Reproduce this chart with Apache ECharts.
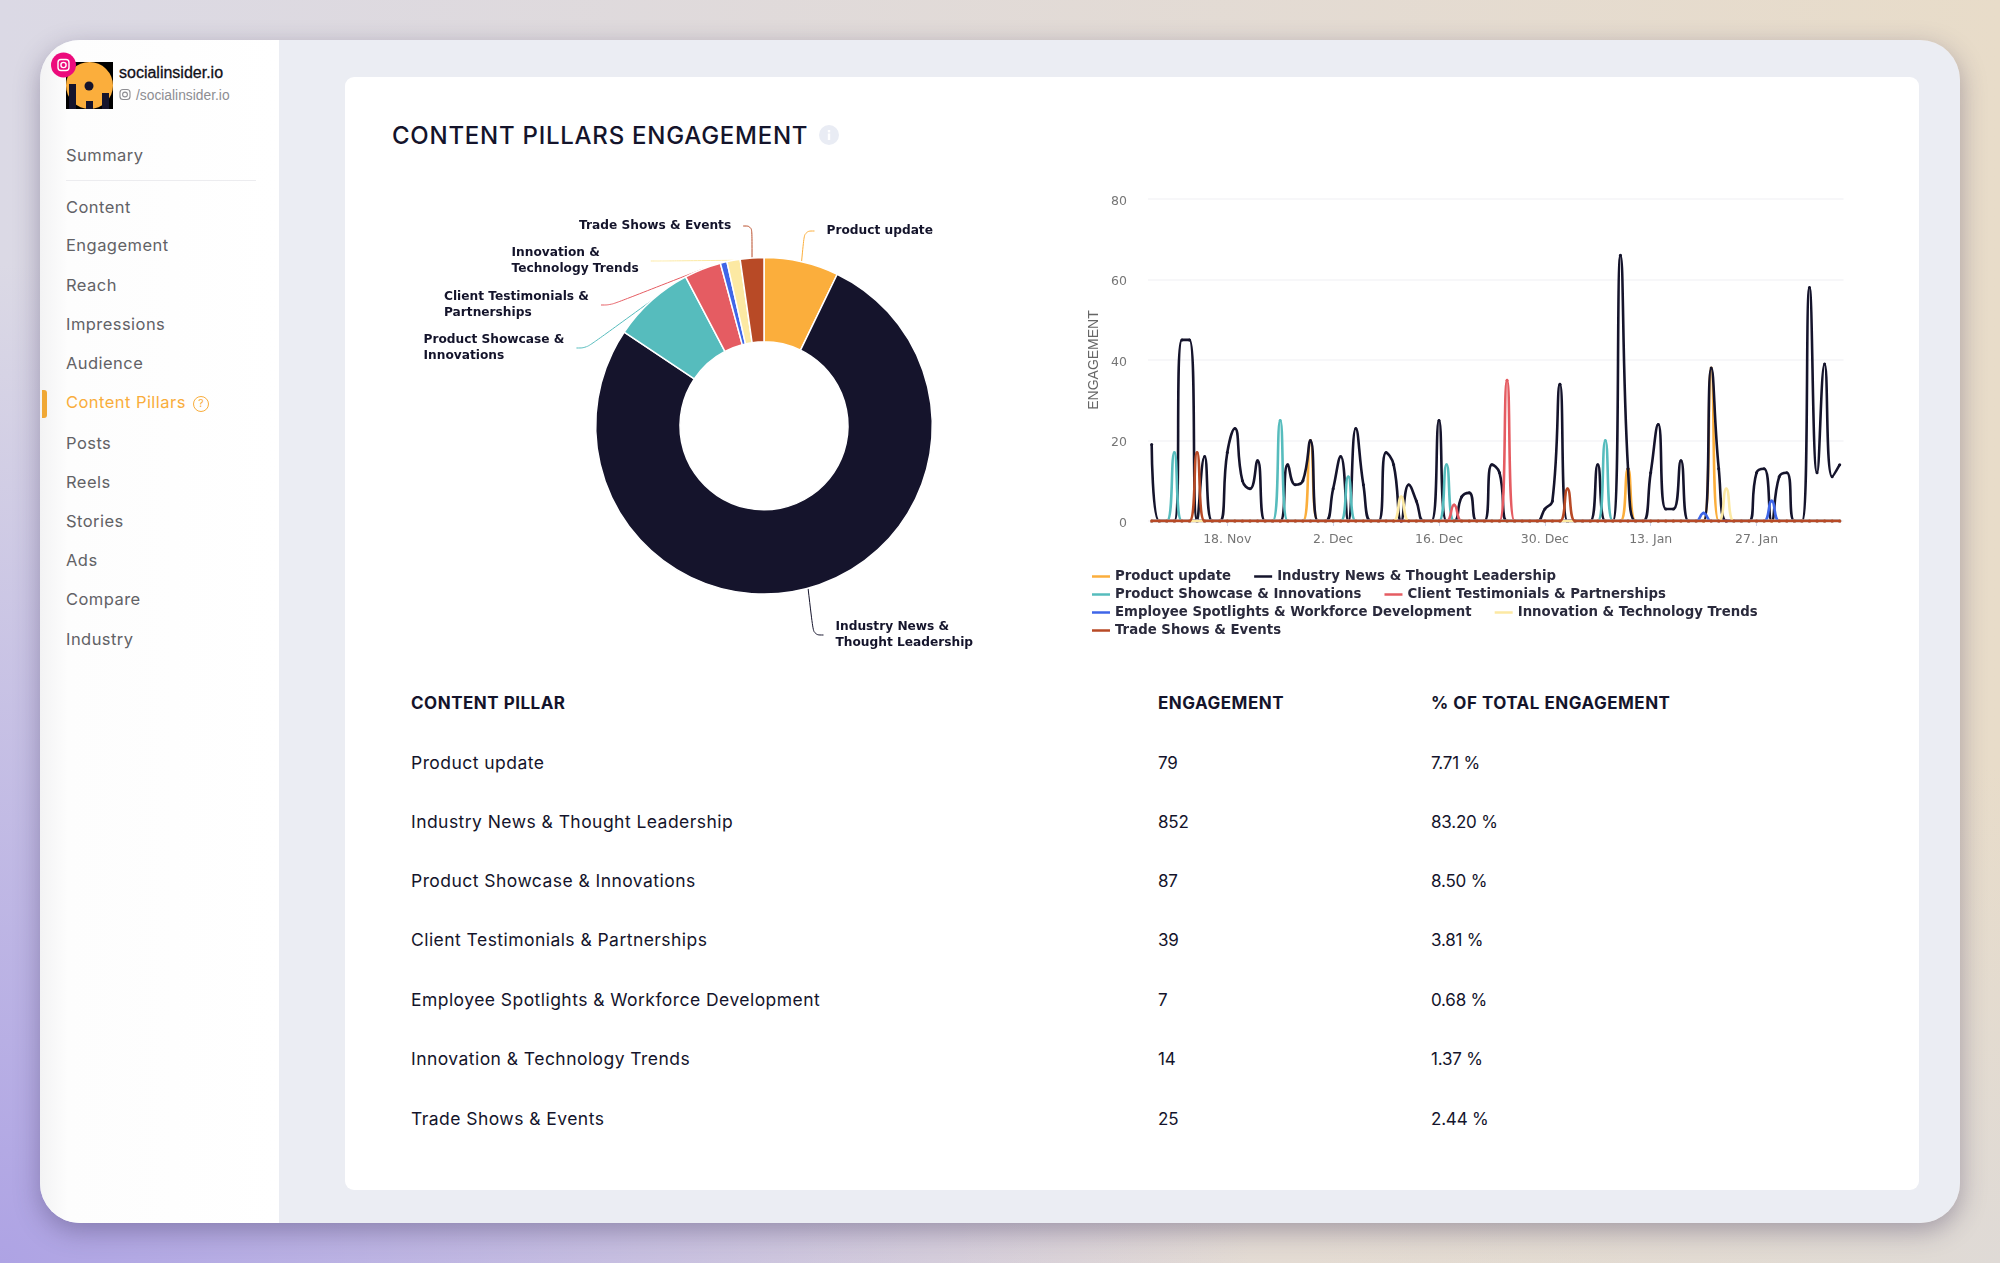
<!DOCTYPE html>
<html>
<head>
<meta charset="utf-8">
<title>Content Pillars Engagement</title>
<script src="https://cdn.jsdelivr.net/npm/echarts@6/dist/echarts.min.js"></script>
<style>
  html, body { margin: 0; padding: 0; }
  body {
    width: 2000px; height: 1263px; position: relative; overflow: hidden;
    font-family: Inter, "Noto Sans", sans-serif;
    background:
      radial-gradient(ellipse 1250px 1000px at 0% 100%, #aea3e4 0%, rgba(174,163,228,0) 100%),
      radial-gradient(ellipse 700px 500px at 100% 100%, #dfdad6 0%, rgba(223,218,214,0) 100%),
      linear-gradient(90deg, #dbd9e5 0%, #e8dcc9 100%);
  }
  .abs { position: absolute; white-space: nowrap; }
  #panel {
    position: absolute; left: 39.5px; top: 40px; width: 1920.5px; height: 1183px;
    border-radius: 40px; background: #ebedf3; overflow: hidden;
  }
  #shadow {
    position: absolute; left: 39.5px; top: 40px; width: 1920.5px; height: 1183px;
    border-radius: 40px; box-shadow: 0 8px 26px rgba(60, 50, 90, .38);
  }
  #side {
    position: absolute; left: 0; top: 0; width: 239.5px; height: 100%;
    background: linear-gradient(90deg, #f3f3f4 0, #fdfdfd 28px, #fff 100%);
  }
  #card { position: absolute; left: 345px; top: 77px; width: 1574px; height: 1113px; background: #fff; border-radius: 9px; }
  .nav { left: 66px; font-size: 16.5px; letter-spacing: .45px; color: #626266; transform: translateY(-50%); }
  .nav.on { color: #f9ad3b; }
  .cell { font-size: 17.5px; color: #14142b; transform: translateY(calc(-50% - 1px)); letter-spacing: .45px; }
  .cell.num { font-size: 17px; letter-spacing: -.2px; transform: translateY(-50%); }
  .cell.head { font-weight: 700; font-size: 17px; letter-spacing: .5px; transform: translateY(-50%); }
  #main { position: absolute; left: 0; top: 0; width: 2000px; height: 1263px; }
</style>
</head>
<body>
<div id="shadow"></div>
<div id="panel"><div id="side"></div></div>
<div id="card"></div>

<!-- logo, badge -->
<svg class="abs" style="left:40px;top:50px" width="90" height="70" viewBox="40 50 90 70">
  <rect x="66" y="62" width="47" height="47" fill="#000"/>
  <circle cx="89.5" cy="85.5" r="23.5" fill="#fbae3c"/>
  <rect x="69" y="84" width="7" height="25" fill="#15142c"/>
  <rect x="102" y="93" width="7" height="16" fill="#15142c"/>
  <rect x="86" y="101" width="7" height="8" fill="#15142c"/>
  <circle cx="89" cy="86" r="4.5" fill="#15142c"/>
  <circle cx="63.5" cy="65" r="12.5" fill="#ec0b7c"/>
  <rect x="58" y="59.5" width="11" height="11" rx="3" fill="none" stroke="#fff" stroke-width="1.4"/>
  <circle cx="63.5" cy="65" r="2.6" fill="none" stroke="#fff" stroke-width="1.4"/>
</svg>
<div class="abs" style="left:119px;top:73px;transform:translateY(-50%);font:500 16px 'Liberation Sans',sans-serif;color:#101018;-webkit-text-stroke:.3px #101018">socialinsider.io</div>
<svg class="abs" style="left:119px;top:88px" width="13" height="14" viewBox="0 0 13 14">
  <rect x="1" y="1.5" width="10" height="10" rx="3" fill="none" stroke="#8d8d92" stroke-width="1.1"/>
  <circle cx="6" cy="6.5" r="2.4" fill="none" stroke="#8d8d92" stroke-width="1.1"/>
</svg>
<div class="abs" style="left:136px;top:95px;transform:translateY(-50%);font:13.8px 'Liberation Sans',sans-serif;color:#8d8d92">/socialinsider.io</div>

<div class="abs" style="left:66px;top:180px;width:190px;height:1px;background:#ececef"></div>
<div class="abs" style="left:42px;top:390px;width:5px;height:28px;background:#f0a835;border-radius:0 3px 3px 0"></div>

<!-- title -->
<div class="abs" style="left:392px;top:135px;transform:translateY(-50%);font-size:24px;font-weight:450;color:#14142b;letter-spacing:.75px">CONTENT PILLARS ENGAGEMENT</div>
<svg class="abs" style="left:819px;top:125px" width="20" height="20" viewBox="0 0 20 20">
  <circle cx="10" cy="10" r="10" fill="#e9ecf4"/>
  <rect x="8.8" y="8.5" width="2.4" height="6.5" fill="#fff"/>
  <rect x="8.8" y="5" width="2.4" height="2.4" fill="#fff"/>
</svg>

<div id="nav"></div>
<div id="table"></div>
<div id="main"></div>

<script>
const echarts = window.echarts

// sidebar
const navItems = ['Summary', 'Content', 'Engagement', 'Reach', 'Impressions', 'Audience', 'Content Pillars', 'Posts', 'Reels', 'Stories', 'Ads', 'Compare', 'Industry']
const navTops = [154.5, 206.5, 245, 284.5, 323.5, 362.5, 401.5, 442.5, 481.5, 520.5, 559.5, 598.5, 638.5]

// pillars
const pillars = [
  'Product update',
  'Industry News & Thought Leadership',
  'Product Showcase & Innovations',
  'Client Testimonials & Partnerships',
  'Employee Spotlights & Workforce Development',
  'Innovation & Technology Trends',
  'Trade Shows & Events'
]
const engagement = [79, 852, 87, 39, 7, 14, 25]
const shareLabels = ['7.71 %', '83.20 %', '8.50 %', '3.81 %', '0.68 %', '1.37 %', '2.44 %']
const tableHeads = ['CONTENT PILLAR', 'ENGAGEMENT', '% OF TOTAL ENGAGEMENT']
const pieLabels = [
  'Product update',
  'Industry News &\nThought Leadership',
  'Product Showcase &\nInnovations',
  'Client Testimonials &\nPartnerships',
  null,
  'Innovation &\nTechnology Trends',
  'Trade Shows & Events'
]

// days, 8. Nov -> 7. Feb
const days = [
  '8. Nov', '9. Nov', '10. Nov', '11. Nov', '12. Nov', '13. Nov', '14. Nov', '15. Nov', '16. Nov', '17. Nov', '18. Nov', '19. Nov',
  '20. Nov', '21. Nov', '22. Nov', '23. Nov', '24. Nov', '25. Nov', '26. Nov', '27. Nov', '28. Nov', '29. Nov', '30. Nov',
  '1. Dec', '2. Dec', '3. Dec', '4. Dec', '5. Dec', '6. Dec', '7. Dec', '8. Dec', '9. Dec', '10. Dec', '11. Dec', '12. Dec', '13. Dec',
  '14. Dec', '15. Dec', '16. Dec', '17. Dec', '18. Dec', '19. Dec', '20. Dec', '21. Dec', '22. Dec', '23. Dec', '24. Dec', '25. Dec',
  '26. Dec', '27. Dec', '28. Dec', '29. Dec', '30. Dec', '31. Dec',
  '1. Jan', '2. Jan', '3. Jan', '4. Jan', '5. Jan', '6. Jan', '7. Jan', '8. Jan', '9. Jan', '10. Jan', '11. Jan', '12. Jan', '13. Jan',
  '14. Jan', '15. Jan', '16. Jan', '17. Jan', '18. Jan', '19. Jan', '20. Jan', '21. Jan', '22. Jan', '23. Jan', '24. Jan', '25. Jan',
  '26. Jan', '27. Jan', '28. Jan', '29. Jan', '30. Jan', '31. Jan',
  '1. Feb', '2. Feb', '3. Feb', '4. Feb', '5. Feb', '6. Feb', '7. Feb'
]
const tickedDays = ['18. Nov', '2. Dec', '16. Dec', '30. Dec', '13. Jan', '27. Jan']
const yTicks = [0, 20, 40, 60, 80]

// one value per day
const productUpdate = [
  0, 0, 0, 0, 0, 0, 0, 0, 0, 0, 0, 0, 0, 0, 0, 0, 0, 0, 0, 0, 0, 20, 0, 0, 0, 0, 0, 0, 0, 0,
  0, 0, 0, 0, 0, 0, 0, 0, 0, 0, 0, 0, 0, 0, 0, 0, 0, 0, 0, 0, 0, 0, 0, 0, 0, 0, 0, 0, 0, 0,
  0, 0, 0, 13, 0, 0, 0, 0, 0, 0, 0, 0, 0, 0, 38, 0, 0, 0, 0, 0, 0, 0, 0, 0, 0, 0, 0, 0, 0, 0,
  0, 0
]
const industryNews = [
  19, 0, 0, 0, 45, 45, 0, 16, 0, 0, 17, 23, 10, 8, 15, 0, 0, 0, 14, 9, 10, 20, 0, 0, 8, 16, 0, 23, 9, 0,
  0, 17, 14, 0, 9, 5, 0, 0, 25, 0, 0, 6, 7, 0, 0, 14, 12, 0, 0, 0, 0, 0, 3, 5, 34, 0, 0, 0, 0, 14,
  0, 0, 66, 13, 0, 0, 12, 24, 3, 3, 15, 0, 0, 0, 38, 13, 0, 0, 0, 0, 12, 13, 0, 11, 12, 0, 0, 58, 12, 39,
  11, 14
]
const productShowcase = [
  0, 0, 0, 17, 0, 0, 0, 0, 0, 0, 0, 0, 0, 0, 0, 0, 0, 25, 0, 0, 0, 0, 0, 0, 0, 0, 11, 0, 0, 0,
  0, 0, 0, 0, 0, 0, 0, 0, 0, 14, 0, 0, 0, 0, 0, 0, 0, 0, 0, 0, 0, 0, 0, 0, 0, 0, 0, 0, 0, 0,
  20, 0, 0, 0, 0, 0, 0, 0, 0, 0, 0, 0, 0, 0, 0, 0, 0, 0, 0, 0, 0, 0, 0, 0, 0, 0, 0, 0, 0, 0,
  0, 0
]
const clientTestimonials = [
  0, 0, 0, 0, 0, 0, 0, 0, 0, 0, 0, 0, 0, 0, 0, 0, 0, 0, 0, 0, 0, 0, 0, 0, 0, 0, 0, 0, 0, 0,
  0, 0, 0, 0, 0, 0, 0, 0, 0, 0, 4, 0, 0, 0, 0, 0, 0, 35, 0, 0, 0, 0, 0, 0, 0, 0, 0, 0, 0, 0,
  0, 0, 0, 0, 0, 0, 0, 0, 0, 0, 0, 0, 0, 0, 0, 0, 0, 0, 0, 0, 0, 0, 0, 0, 0, 0, 0, 0, 0, 0,
  0, 0
]
const employeeSpotlights = [
  0, 0, 0, 0, 0, 0, 0, 0, 0, 0, 0, 0, 0, 0, 0, 0, 0, 0, 0, 0, 0, 0, 0, 0, 0, 0, 0, 0, 0, 0,
  0, 0, 0, 0, 0, 0, 0, 0, 0, 0, 0, 0, 0, 0, 0, 0, 0, 0, 0, 0, 0, 0, 0, 0, 0, 0, 0, 0, 0, 0,
  0, 0, 0, 0, 0, 0, 0, 0, 0, 0, 0, 0, 0, 2, 0, 0, 0, 0, 0, 0, 0, 0, 5, 0, 0, 0, 0, 0, 0, 0,
  0, 0
]
const innovationTrends = [
  0, 0, 0, 0, 0, 0, 0, 0, 0, 0, 0, 0, 0, 0, 0, 0, 0, 0, 0, 0, 0, 0, 0, 0, 0, 0, 0, 0, 0, 0,
  0, 0, 0, 6, 0, 0, 0, 0, 0, 0, 0, 0, 0, 0, 0, 0, 0, 0, 0, 0, 0, 0, 0, 0, 0, 0, 0, 0, 0, 0,
  0, 0, 0, 0, 0, 0, 0, 0, 0, 0, 0, 0, 0, 0, 0, 0, 8, 0, 0, 0, 0, 0, 0, 0, 0, 0, 0, 0, 0, 0,
  0, 0
]
const tradeShows = [
  0, 0, 0, 0, 0, 0, 17, 0, 0, 0, 0, 0, 0, 0, 0, 0, 0, 0, 0, 0, 0, 0, 0, 0, 0, 0, 0, 0, 0, 0,
  0, 0, 0, 0, 0, 0, 0, 0, 0, 0, 0, 0, 0, 0, 0, 0, 0, 0, 0, 0, 0, 0, 0, 0, 0, 8, 0, 0, 0, 0,
  0, 0, 0, 0, 0, 0, 0, 0, 0, 0, 0, 0, 0, 0, 0, 0, 0, 0, 0, 0, 0, 0, 0, 0, 0, 0, 0, 0, 0, 0,
  0, 0
]
const daily = [productUpdate, industryNews, productShowcase, clientTestimonials, employeeSpotlights, innovationTrends, tradeShows]

const colors = ['#fbae3c', '#15142c', '#56bcbd', '#e55c62', '#3f66e8', '#fce9a3', '#b84a26']
const labelFont = { fontFamily: 'DejaVu Sans', fontSize: 12.2, fontWeight: 600, color: '#14142b' }
const legendFont = { fontFamily: 'DejaVu Sans', fontSize: 13.3, fontWeight: 600, color: '#2a2a3c' }
const gridLine = '#f5f5f7'

// pie labels sit where the reference has them, 12px padding keeps the line off the text
const labelPad = 12
const pieLabelSpots = [
  [826.5, 231], [835.5, 635], [423.5, 348], [444, 305], [0, 0], [511.5, 261], [579, 226]
]

// --- html parts
const nav = document.getElementById('nav')
nav.innerHTML = navItems.map((name, i) => {
  let q = name === 'Content Pillars'
    ? '<span style="display:inline-block;width:14px;height:14px;line-height:14px;border:1.4px solid #f9ad3b;border-radius:50%;text-align:center;font-size:10.5px;margin-left:7px;vertical-align:1px;letter-spacing:0">?</span>'
    : ''
  return `<div class="abs nav ${q ? 'on' : ''}" style="top:${navTops[i]}px">${name}${q}</div>`
}).join('')

const colLeft = [411, 1158, 1431]
const rowTops = [763, 821.5, 881, 940, 1000, 1059, 1119]
let tableHtml = tableHeads.map((t, i) => `<div class="abs cell head" style="left:${colLeft[i]}px;top:703px">${t}</div>`).join('')
pillars.forEach((name, i) => {
  let row = [name.replace(/&/g, '&amp;'), engagement[i], shareLabels[i]]
  tableHtml += row.map((t, c) => `<div class="abs cell ${c ? 'num' : ''}" style="left:${colLeft[c]}px;top:${rowTops[i]}px">${t}</div>`).join('')
})
document.getElementById('table').innerHTML = tableHtml

// --- chart
// legend wraps with the same gap in both directions, so one legend per row
const legendRow = (names, top) => ({
  left: 1092,
  top: top,
  orient: 'horizontal',
  data: names,
  icon: 'rect',
  itemWidth: 18,
  itemHeight: 2.5,
  itemGap: 23,
  padding: 0,
  textStyle: legendFont,
  selectedMode: false
})

const lineSeries = pillars.map((name, i) => ({
  name: name,
  type: 'line',
  data: daily[i],
  smooth: 0.5,
  symbol: 'circle',
  symbolSize: 3,
  showSymbol: true,
  showAllSymbol: true,
  lineStyle: { color: colors[i], width: 2.6 },
  itemStyle: { color: colors[i] },
  z: 2 + i,
  animation: false
}))

const pieSeries = {
  type: 'pie',
  center: [764, 425.8],
  radius: [84, 168.3],
  startAngle: 90,
  clockwise: true,
  avoidLabelOverlap: false,
  animation: false,
  silent: true,
  data: pillars.map((name, i) => ({
    name: name,
    value: engagement[i],
    itemStyle: { color: colors[i], borderColor: '#fff', borderWidth: 1.5 },
    label: { show: pieLabels[i] !== null },
    labelLine: {
      show: pieLabels[i] !== null,
      smooth: 0.4,
      lineStyle: { color: colors[i], width: 1 }
    }
  })),
  label: Object.assign({
    position: 'outside',
    lineHeight: 16.5,
    align: 'left',
    padding: [0, labelPad],
    formatter: p => pieLabels[p.dataIndex] || ''
  }, labelFont),
  labelLine: { length: 14, length2: 10 },
  labelLayout: p => {
    let spot = pieLabelSpots[p.dataIndex]
    return { x: spot[0] - labelPad, y: spot[1], align: 'left', verticalAlign: 'middle' }
  }
}

const myChart = echarts.init(document.getElementById('main'), null, { renderer: 'canvas' })
myChart.setOption({
  backgroundColor: 'transparent',
  animation: false,
  color: colors,
  grid: { left: 1147.9, top: 199, width: 695.6, height: 322, containLabel: false },
  legend: [
    legendRow([pillars[0], pillars[1]], 570),
    legendRow([pillars[2], pillars[3]], 588),
    legendRow([pillars[4], pillars[5]], 606),
    legendRow([pillars[6]], 624)
  ],
  xAxis: {
    type: 'category',
    data: days,
    boundaryGap: true,
    axisLine: { show: false },
    axisTick: {
      show: true,
      alignWithLabel: true,
      length: 5,
      interval: (i, v) => tickedDays.includes(v),
      lineStyle: { color: '#ccd6eb' }
    },
    axisLabel: {
      interval: (i, v) => tickedDays.includes(v),
      margin: 12,
      fontFamily: 'DejaVu Sans',
      fontSize: 12.5,
      color: '#757575'
    },
    splitLine: { show: false }
  },
  yAxis: {
    type: 'value',
    min: yTicks[0],
    max: yTicks[yTicks.length - 1],
    interval: 20,
    name: 'ENGAGEMENT',
    nameLocation: 'middle',
    nameGap: 47,
    nameTextStyle: { fontFamily: 'Liberation Sans', fontSize: 14, color: '#666' },
    axisLine: { show: false },
    axisTick: { show: false },
    // top aligned with a short line box puts the digits a little under the grid line
    axisLabel: { margin: 21, verticalAlign: 'top', lineHeight: 5, fontFamily: 'DejaVu Sans', fontSize: 12.5, color: '#757575' },
    splitLine: { lineStyle: { color: gridLine, width: 1.5 } }
  },
  series: lineSeries.concat([pieSeries])
})
</script>
</body>
</html>
